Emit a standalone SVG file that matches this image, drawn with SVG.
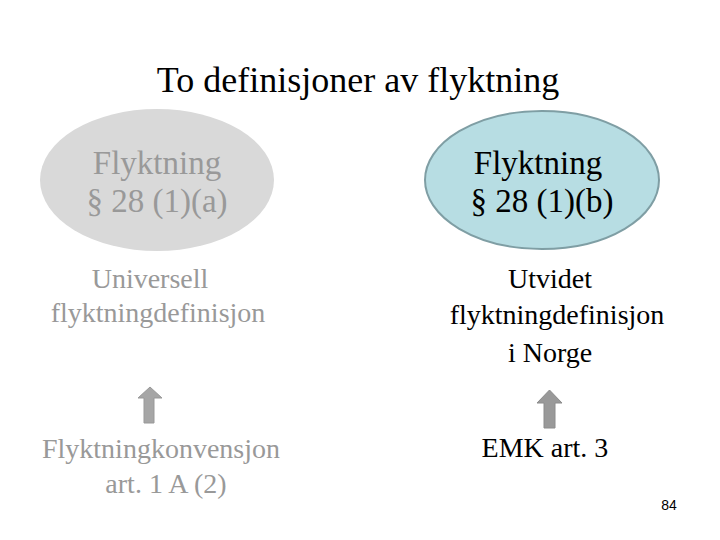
<svg xmlns="http://www.w3.org/2000/svg" width="720" height="540" viewBox="0 0 720 540" font-family="'Liberation Serif', 'Times New Roman', 'DejaVu Serif', serif">
<style>
text{font-family:'Liberation Serif','Times New Roman','DejaVu Serif',serif;text-anchor:middle}
.t{font-size:36px;fill:#000}
.e{font-size:33px}
.g{fill:#999}
.k{fill:#000}
.b{font-size:28px}
.arrow{fill:#a6a6a6;stroke:#999;stroke-width:1}
.num{font-family:'Liberation Sans',Arial,sans-serif;font-size:14px;fill:#000}
</style>
<rect width="720" height="540" fill="#fff"/>
<g id="title"><text class="t" x="358" y="92">To definisjoner av flyktning</text></g>
<g id="node-a">
<ellipse cx="157" cy="180" rx="117" ry="71" fill="#d9d9d9"/>
<text class="e g" x="157" y="174">Flyktning</text>
<text class="e g" x="157" y="212">§ 28 (1)(a)</text>
</g>
<g id="node-b">
<ellipse cx="542" cy="180" rx="117" ry="69" fill="#b7dde3" stroke="#7f9ea4" stroke-width="2"/>
<text class="e k" x="538" y="174">Flyktning</text>
<text class="e k" x="542" y="212">§ 28 (1)(b)</text>
</g>
<g id="label-a">
<text class="b g" x="150" y="288">Universell</text>
<text class="b g" x="158" y="322">flyktningdefinisjon</text>
</g>
<g id="label-b">
<text class="b k" x="550" y="288">Utvidet</text>
<text class="b k" x="557" y="324">flyktningdefinisjon</text>
<text class="b k" x="550" y="362">i Norge</text>
</g>
<g id="source-a">
<text class="b g" x="161" y="458">Flyktningkonvensjon</text>
<text class="b g" x="166" y="493">art. 1 A (2)</text>
</g>
<g id="source-b">
<text class="b k" x="545" y="457">EMK art. 3</text>
</g>
<g id="connectors">
<polygon class="arrow" points="150,387 162,398 154,398 154,423 144,423 144,398 138,398"/>
<polygon class="arrow" points="549.5,390 562,403 555,403 555,428 544,428 544,403 537,403" style="fill:#999;stroke:#8c8c8c"/>
</g>
<text class="num" x="669" y="510">84</text>
</svg>
